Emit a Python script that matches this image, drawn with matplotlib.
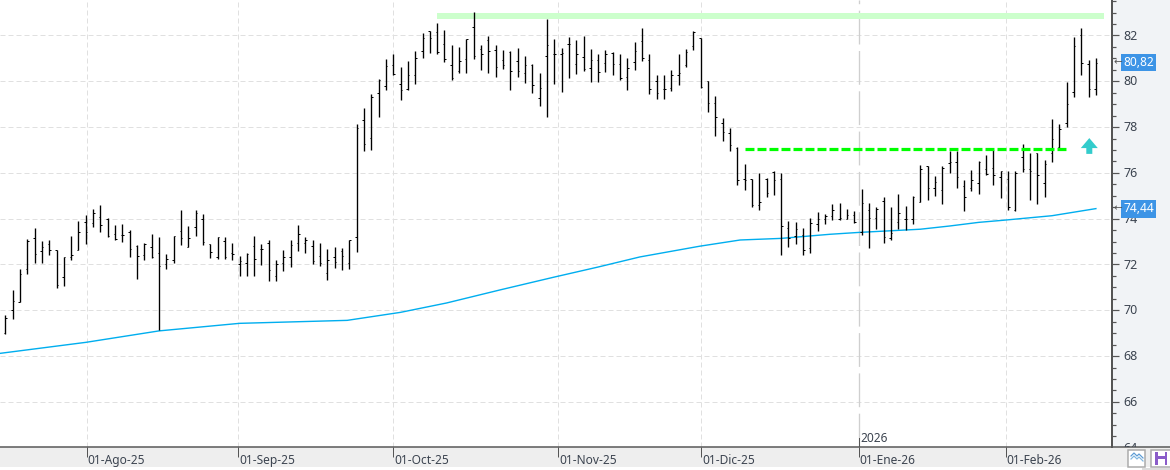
import numpy as np
import matplotlib
matplotlib.use('Agg')
import matplotlib.pyplot as plt
from matplotlib.patches import Rectangle
from matplotlib.ticker import MultipleLocator
from matplotlib.transforms import ScaledTranslation

highs = [
    69.80, 70.89, 71.80, 73.10, 73.58, 73.01, 73.05, 72.65, 72.34, 73.23,
    73.88, 74.15, 74.44, 74.58, 74.04, 73.74, 73.78, 73.49, 72.84, 72.92,
    73.32, 73.18, 72.44, 73.26, 74.36, 73.67, 74.36, 74.20, 72.89, 73.20,
    73.20, 72.93, 72.37, 72.50, 73.24, 72.89, 73.09, 72.20, 72.63, 73.07,
    73.72, 73.20, 73.07, 72.93, 72.67, 72.76, 72.72, 73.07, 78.14, 78.84,
    79.46, 80.09, 80.97, 81.19, 80.63, 80.89, 81.32, 82.11, 82.20, 82.55,
    82.24, 81.59, 81.50, 81.83, 83.03, 81.59, 81.98, 81.59, 81.37, 81.31,
    81.46, 81.11, 80.76, 80.37, 82.72, 81.85, 81.46, 81.94, 81.80, 81.98,
    81.41, 81.19, 81.37, 81.28, 81.19, 81.02, 81.72, 82.33, 81.19, 80.27,
    80.27, 80.49, 81.19, 81.41, 82.20, 81.89, 80.00, 79.36, 78.40, 77.97,
    77.14, 76.37, 75.75, 76.00, 75.79, 76.07, 76.00, 73.88, 73.84, 73.58,
    74.01, 74.28, 74.19, 74.62, 74.67, 74.43, 74.32, 75.28, 74.68, 74.52,
    74.93, 74.49, 75.06, 74.54, 74.97, 76.36, 76.32, 75.88, 76.28, 76.97,
    76.97, 75.67, 76.14, 76.50, 76.77, 77.00, 76.07, 76.07, 76.07, 77.24,
    76.85, 76.85, 76.55, 78.36, 78.15, 79.97, 81.93, 82.33, 80.95, 81.00,
]
lows = [
    68.95, 69.64, 70.36, 71.58, 72.06, 72.06, 72.41, 70.97, 71.05, 72.20,
    72.65, 72.89, 73.64, 73.42, 73.20, 73.07, 72.98, 72.33, 71.37, 72.20,
    72.28, 69.12, 71.80, 72.06, 72.85, 72.76, 73.24, 72.85, 72.28, 72.22,
    72.25, 72.20, 71.50, 71.50, 71.50, 71.98, 71.30, 71.28, 71.72, 71.90,
    72.59, 72.50, 72.02, 71.93, 71.33, 71.85, 71.76, 71.80, 72.56, 76.94,
    76.98, 78.42, 79.60, 80.29, 79.20, 79.62, 79.88, 81.02, 81.24, 81.20,
    80.83, 80.07, 80.38, 80.38, 80.97, 80.49, 80.36, 80.19, 80.55, 79.62,
    80.19, 79.93, 79.50, 78.92, 78.44, 79.88, 79.53, 80.15, 80.32, 80.45,
    79.97, 79.97, 80.39, 80.26, 80.06, 79.62, 80.49, 80.90, 79.44, 79.22,
    79.22, 79.57, 79.84, 80.62, 81.37, 79.69, 78.67, 77.61, 77.39, 76.97,
    75.45, 75.24, 74.49, 74.37, 74.93, 75.02, 72.43, 72.77, 72.88, 72.41,
    72.49, 73.45, 73.75, 73.93, 73.93, 73.99, 73.80, 73.28, 72.71, 73.54,
    72.93, 73.06, 73.54, 73.49, 73.75, 74.71, 74.80, 74.97, 74.62, 76.01,
    75.36, 74.32, 75.23, 75.10, 75.90, 75.45, 74.90, 74.38, 74.35, 76.02,
    74.80, 74.63, 74.93, 76.46, 77.09, 78.00, 79.33, 80.27, 79.33, 79.42,
]
opens = [
    69.03, 70.00, 70.38, 71.82, 73.17, 72.60, 72.90, 72.65, 71.47, 72.33,
    72.65, 73.87, 73.83, 74.09, 74.00, 73.34, 73.30, 73.40, 72.82, 72.43,
    72.78, 72.52, 72.03, 72.21, 73.48, 72.78, 73.65, 74.00, 72.88, 72.31,
    73.01, 72.49, 72.02, 72.05, 72.79, 72.66, 72.92, 71.49, 72.05, 72.33,
    72.96, 72.92, 72.79, 72.36, 71.62, 72.31, 72.57, 72.05, 73.18, 78.31,
    77.52, 79.48, 79.78, 80.69, 79.87, 79.65, 80.26, 81.31, 82.18, 82.14,
    81.61, 80.70, 80.43, 80.96, 82.36, 81.40, 81.79, 81.35, 80.92, 81.27,
    80.87, 80.35, 80.71, 79.26, 81.09, 81.18, 81.18, 81.61, 80.74, 81.04,
    80.57, 80.92, 80.78, 81.24, 80.74, 80.17, 80.83, 81.76, 80.92, 80.00,
    79.65, 79.70, 80.28, 80.70, 81.53, 81.88, 80.00, 79.04, 78.16, 77.74,
    77.10, 75.73, 75.72, 74.60, 75.75, 76.04, 75.75, 73.61, 73.26, 73.29,
    72.70, 73.78, 73.97, 74.13, 74.00, 74.00, 74.17, 73.41, 74.39, 74.04,
    74.78, 73.17, 73.87, 74.00, 74.00, 74.74, 76.29, 75.35, 75.26, 76.43,
    76.48, 75.43, 75.36, 75.57, 76.18, 76.22, 75.80, 75.75, 74.36, 76.68,
    76.15, 76.85, 75.57, 76.89, 77.13, 78.20, 79.55, 82.00, 80.74, 79.67,
]
closes = [
    69.67, 70.39, 71.60, 73.04, 72.47, 72.78, 72.65, 71.12, 72.34, 72.43,
    73.43, 73.43, 74.26, 73.74, 73.24, 73.11, 73.30, 72.69, 72.38, 72.89,
    72.34, 71.95, 72.22, 73.24, 73.17, 73.17, 74.26, 72.99, 72.53, 73.18,
    72.33, 72.46, 72.14, 72.47, 72.22, 72.66, 71.75, 72.02, 72.31, 72.83,
    73.31, 73.05, 72.14, 72.05, 72.18, 72.09, 72.36, 73.05, 77.95, 77.26,
    79.31, 80.04, 80.65, 80.30, 79.60, 80.26, 81.00, 81.88, 81.88, 81.27,
    80.96, 80.16, 80.87, 81.83, 81.09, 81.18, 81.31, 80.61, 80.70, 80.44,
    80.44, 80.70, 79.82, 79.70, 81.57, 81.18, 81.24, 81.61, 81.18, 80.52,
    80.92, 80.39, 81.18, 80.74, 80.13, 80.57, 81.31, 81.00, 79.65, 79.47,
    79.65, 80.26, 80.35, 81.27, 82.15, 79.74, 79.04, 78.43, 77.77, 77.21,
    75.70, 75.70, 74.58, 74.73, 75.14, 75.70, 73.70, 73.17, 73.57, 72.65,
    73.83, 74.00, 74.12, 74.39, 74.04, 74.17, 73.87, 74.68, 74.04, 74.43,
    73.22, 73.39, 74.26, 74.00, 74.93, 76.17, 75.35, 75.61, 76.23, 76.48,
    75.83, 74.96, 75.70, 76.48, 75.93, 75.92, 76.07, 74.53, 76.00, 76.15,
    76.09, 75.89, 76.40, 77.50, 77.91, 79.00, 81.55, 80.78, 79.67, 80.82,
]

# media movil, por sesion
ma_sessions = [-0.7, 11, 21, 32, 46.7, 54, 60.3, 67.6, 75, 81, 86.7, 94.9,
               100.4, 106, 112.7, 116.6, 125, 129, 133, 136.3, 143, 149]
ma_values = [68.12, 68.60, 69.10, 69.43, 69.56, 69.91, 70.32, 70.89, 71.45, 71.89,
             72.33, 72.80, 73.07, 73.14, 73.32, 73.40, 73.54, 73.68, 73.84, 73.93,
             74.13, 74.44]

month_sessions = [11.1, 31.85, 52.96, 75.5, 95.1, 116.6, 136.7]
month_labels = ['01-Ago-25', '01-Sep-25', '01-Oct-25', '01-Nov-25', '01-Dic-25',
                '01-Ene-26', '01-Feb-26']
year_session = 116.6
year_label = '2026'

resistance_level = 82.86
resistance_start, resistance_end = 59, 150.1
support_level = 77.03
support_start, support_end = 101, 145
arrow_session, arrow_tail, arrow_tip = 148.1, 76.83, 77.52

last_price = 80.82
last_ma = 74.44

W, H = 1170, 470
PANEL_X = 1112
PLOT_BOTTOM = 447
Y_TOP = 83.55
Y_BOTTOM = 64.03
PX = 0.72  # puntos por pixel a 100 dpi
FONT = 'Noto Sans'
TEXT_COLOR = '#3c4450'
AXIS_COLOR = '#555555'
GRID_COLOR = '#e0e0e0'

fig = plt.figure(figsize=(W / 100, H / 100), dpi=100, facecolor='white')

# fondo de la barra inferior y botones
chrome = fig.add_axes([0, 0, 1, 1], zorder=0)
chrome.set_xlim(0, W)
chrome.set_ylim(H, 0)
chrome.axis('off')
chrome.add_patch(Rectangle((0, PLOT_BOTTOM), W, 20, fc='#eeeeee', ec='none'))
chrome.add_patch(Rectangle((1128, 449.5), 17, 17, fc='white', ec='#aaaaaa', lw=1.5 * PX))
chrome.add_patch(Rectangle((1150.5, 449.5), 20, 17, fc='white', ec='#aaaaaa', lw=1.5 * PX))
chrome.plot([1131, 1134, 1137, 1139, 1143], [456, 453, 456, 454, 458], color='#5a9bd5', lw=1.2 * PX)
chrome.plot([1131, 1134, 1137, 1139, 1143], [459, 456, 459, 457, 461], color='#7fb5e0', lw=1.2 * PX)
chrome.add_patch(Rectangle((1155, 451.5), 12, 13, fc='#8a5cc9', ec='none'))
chrome.add_patch(Rectangle((1157.5, 451.5), 7, 4, fc='white', ec='none'))
chrome.add_patch(Rectangle((1157.5, 459), 7, 5.5, fc='white', ec='none'))
chrome.add_patch(Rectangle((1142, 467.5), 28, 2.5, fc='#dddddd', ec='none'))

ax = fig.add_axes([0, (H - PLOT_BOTTOM) / H, PANEL_X / W, PLOT_BOTTOM / H], zorder=1)
x = np.arange(len(highs))
ax.set_xlim(-0.724, 151.2)
ax.set_ylim(Y_BOTTOM, Y_TOP)
ax.set_facecolor('white')

# rejilla
ax.hlines(np.arange(66, 83, 2), -0.724, 151.2, color=GRID_COLOR, lw=1 * PX,
          linestyles=[(0, (5, 3))], zorder=1)
for pos in month_sessions:
    if pos == year_session:
        ax.axvline(pos, color='#cfcfcf', lw=1.3 * PX, ls=(0, (26, 5)), zorder=1)
    else:
        ax.axvline(pos, color=GRID_COLOR, lw=1 * PX, ls=(0, (5, 3)), zorder=1)

ax.add_patch(Rectangle((resistance_start, resistance_level - 0.13),
                       resistance_end - resistance_start, 0.26,
                       fc='#ccffcc', ec='none', zorder=2))
ax.plot(ma_sessions, ma_values, color='#00aeef', lw=1.4 * PX, zorder=3)

# barras OHLC
tick = 0.2
ax.vlines(x, lows, highs, color='black', lw=1.35 * PX, antialiased=True, zorder=4).set_snap(True)
ax.hlines(opens, x - tick, x, color='black', lw=1 * PX, antialiased=True, zorder=4).set_snap(True)
ax.hlines(closes, x, x + tick, color='black', lw=1 * PX, antialiased=True, zorder=4).set_snap(True)

ax.plot([support_start, support_end], [support_level, support_level], color='#00ff00',
        lw=3.2 * PX, ls=(0, (2.8, 0.95)), dash_capstyle='butt', zorder=5)
ax.annotate('', xy=(arrow_session, arrow_tip), xytext=(arrow_session, arrow_tail),
            arrowprops=dict(width=6 * PX, headwidth=17 * PX, headlength=10 * PX, shrink=0,
                            facecolor='#33cccc', edgecolor='none'), zorder=5)

ax.plot([year_session, year_session], [Y_BOTTOM, Y_BOTTOM + 0.4], color=AXIS_COLOR,
        lw=1 * PX, zorder=5)
ax.text(year_session + 0.25, Y_BOTTOM + 0.1, year_label, fontsize=8.6, family=FONT,
        color=TEXT_COLOR, ha='left', va='bottom')

for side in ['top', 'left', 'right']:
    ax.spines[side].set_visible(False)
ax.spines['bottom'].set_color(AXIS_COLOR)
ax.spines['bottom'].set_linewidth(1.5 * PX)
ax.set_yticks([])
ax.set_xticks(month_sessions, month_labels, ha='left', family=FONT, fontsize=8.6,
              color=TEXT_COLOR)
ax.tick_params(axis='x', length=10 * PX, width=1 * PX, color=AXIS_COLOR, pad=-2.2)
label_shift = ScaledTranslation(1 / 100, 0, fig.dpi_scale_trans)
for label in ax.get_xticklabels():
    label.set_transform(label.get_transform() + label_shift)

# escala de precios
panel = fig.add_axes([PANEL_X / W, (H - PLOT_BOTTOM) / H, (W - PANEL_X) / W, PLOT_BOTTOM / H], zorder=1)
panel.set_xlim(PANEL_X, W)
panel.set_ylim(Y_BOTTOM, Y_TOP)
panel.set_facecolor('#f1f3f6')
panel.set_xticks([])
panel.yaxis.set_major_locator(MultipleLocator(2))
panel.yaxis.set_minor_locator(MultipleLocator(0.5))
panel.tick_params(axis='y', which='major', direction='in', length=7 * PX, width=1.2 * PX,
                  color=AXIS_COLOR, labelleft=False)
panel.tick_params(axis='y', which='minor', direction='in', length=4 * PX, width=1.2 * PX,
                  color=AXIS_COLOR)
for side in ['top', 'right']:
    panel.spines[side].set_visible(False)
panel.spines['left'].set_color(AXIS_COLOR)
panel.spines['left'].set_linewidth(2 * PX)
panel.spines['bottom'].set_color(AXIS_COLOR)
panel.spines['bottom'].set_linewidth(1.5 * PX)

for value in range(64, 84, 2):
    panel.text(1123, value - 0.03, str(value), fontsize=9, family=FONT, color=TEXT_COLOR,
               ha='left', va='center', clip_on=True)

for price in [last_price, last_ma]:
    label = f'{price:.2f}'.replace('.', ',')
    panel.text(1138.5, price, label, fontsize=8.6, family=FONT, color='white', ha='center',
               va='center', zorder=4,
               bbox=dict(boxstyle='square,pad=0.2', fc='#3d94e6', ec='none'))
    panel.text(1117.5, price, '\u2190', fontsize=7.5, family='DejaVu Sans', color='#555555',
               ha='center', va='center', zorder=4)

fig.savefig('out.png', dpi=100)
